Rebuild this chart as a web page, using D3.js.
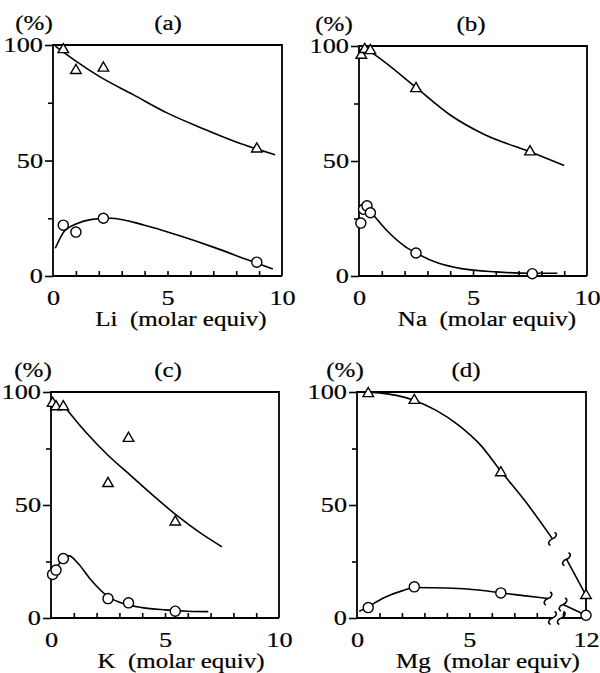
<!DOCTYPE html>
<html lang="en">
<head>
<meta charset="UTF-8">
<title>Document</title>
<script src="https://unpkg.com/d3@7.8.5/dist/d3.min.js"></script>
<style>
    * { margin: 0; padding: 0; box-sizing: border-box; }
    body { background: #fff; }
    svg { display: block; }
    text { font-family: "Liberation Serif", "Times New Roman", serif; fill: #000; stroke: #000; stroke-width: 0.2px; white-space: pre; }
</style>
</head>
<body>
<svg class="cc" width="600" height="673"></svg>
<script>
    // (a) Li
    const liDose = [0.45, 1.0, 2.2, 8.9]
    const liTriangle = [98, 89, 90, 55]
    const liCircle = [22, 19, 25, 6]
    const liTriFitX = [0.1, 1, 2, 3.5, 5, 6.5, 8, 9.7]
    const liTriFitY = [99.5, 93, 86.5, 78.5, 70.5, 64, 58, 52.5]
    const liCircFitX = [0.1, 0.5, 1, 1.7, 2.5, 4, 5.5, 7, 8.5, 9.6]
    const liCircFitY = [12, 19.5, 22.5, 24.5, 25, 22, 17.5, 12.5, 7, 3]

    // (b) Na
    const naDoseTri = [0.1, 0.25, 0.5, 2.5, 7.5]
    const naTriangle = [96, 98.5, 98, 81.5, 54]
    const naDoseCirc = [0.08, 0.2, 0.35, 0.5, 2.5, 7.6]
    const naCircle = [23, 29, 30.5, 27.5, 10, 1]
    const naTriFitX = [0.2, 1, 2.5, 4, 5.5, 7.5, 9]
    const naTriFitY = [99.5, 94, 82, 70, 61.5, 54, 48]
    const naCircFitX = [0.3, 0.55, 1.2, 2, 2.5, 3.5, 4.5, 6, 7.5, 8.7]
    const naCircFitY = [30.5, 27.5, 20, 13, 10, 5.5, 3.2, 1.8, 1.2, 1.2]

    // (c) K
    const kDose = [0.07, 0.22, 0.54, 2.5, 3.4, 5.45]
    const kTriangle = [95, 93.5, 93.5, 59.5, 79.5, 42.5]
    const kCircle = [19.3, 21.2, 26.3, 8.6, 6.7, 3]
    const kTriFitX = [0.55, 1.5, 2.5, 3.5, 4.5, 5.5, 6.5, 7.5]
    const kTriFitY = [94, 82.5, 72, 63, 54, 45.5, 38, 31.5]
    const kCircFitX = [0.05, 0.3, 0.55, 0.8, 1.2, 1.7, 2.5, 3.2, 4, 5, 6, 6.9]
    const kCircFitY = [19, 23, 27, 27.5, 24, 17.5, 9.5, 6.3, 4.6, 3.6, 3, 2.8]

    // (d) Mg  (x轴在 9~11 之间断开)
    const mgDose = [0.5, 2.55, 6.4, 12]
    const mgTriangle = [99.3, 96.3, 64.3, 10]
    const mgCircle = [4.6, 13.8, 11.1, 1.2]
    const mgTriFitX = [0.2, 1, 2.5, 3.5, 4.5, 5.5, 6.4, 7.5, 8.7]
    const mgTriFitY = [100, 99.6, 96.5, 92, 85.5, 76.5, 65, 51.5, 35]
    const mgTriFit2X = [11.15, 12]
    const mgTriFit2Y = [26, 10]
    const mgCircFitX = [0.1, 0.5, 1.2, 2, 2.6, 4, 5.5, 6.4, 7.5, 8.5]
    const mgCircFitY = [3, 5, 9, 12, 13.5, 13.3, 12.3, 11.1, 9.8, 8.6]
    const mgCircFit2X = [11, 12]
    const mgCircFit2Y = [6, 1.2]
    const mgAxisBreak = [8.7, 10.4]

    const yMajor = [0, 50, 100]
    const yMinor = [25, 75]

    const zip = (xs, ys) => xs.map((v, i) => [v, ys[i]])

    const panels = [
        {
            key: '(a)', name: 'Li  (molar equiv)', left: 53, top: 45, right: 282, bottom: 276,
            xDomain: [0, 10], xFrac: [0, 1], xTicks: d3.range(1, 10), xLabels: [0, 5, 10],
            pctX: 34, titleX: 168, nameX: 181,
            tri: zip(liDose, liTriangle), circ: zip(liDose, liCircle),
            fits: [zip(liTriFitX, liTriFitY), zip(liCircFitX, liCircFitY)]
        },
        {
            key: '(b)', name: 'Na  (molar equiv)', left: 359, top: 46, right: 587, bottom: 276,
            xDomain: [0, 10], xFrac: [0, 1], xTicks: d3.range(1, 10), xLabels: [0, 5, 10],
            pctX: 334, titleX: 471, nameX: 487,
            tri: zip(naDoseTri, naTriangle), circ: zip(naDoseCirc, naCircle),
            fits: [zip(naTriFitX, naTriFitY), zip(naCircFitX, naCircFitY)]
        },
        {
            key: '(c)', name: 'K  (molar equiv)', left: 51, top: 392, right: 279, bottom: 618,
            xDomain: [0, 10], xFrac: [0, 1], xTicks: d3.range(1, 10), xLabels: [0, 5, 10],
            pctX: 33, titleX: 168, nameX: 181,
            tri: zip(kDose, kTriangle), circ: zip(kDose, kCircle),
            fits: [zip(kTriFitX, kTriFitY), zip(kCircFitX, kCircFitY)]
        },
        {
            key: '(d)', name: 'Mg  (molar equiv)', left: 357, top: 392, right: 586, bottom: 618,
            xDomain: [0, 8.9, 11, 12], xFrac: [0, 200 / 229, 206 / 229, 1],
            xTicks: [1, 2, 3, 4, 5, 6, 7, 8, 11], xLabels: [0, 5, 12],
            pctX: 345, titleX: 466, nameX: 488,
            tri: zip(mgDose, mgTriangle), circ: zip(mgDose, mgCircle),
            fits: [zip(mgTriFitX, mgTriFitY), zip(mgCircFitX, mgCircFitY)],
            fits2: [zip(mgTriFit2X, mgTriFit2Y), zip(mgCircFit2X, mgCircFit2Y)],
            axisBreak: mgAxisBreak
        }
    ]

    const SX = 1.25 // 原图字体偏宽
    const svg = d3.select('svg')

    function txt(g, x, y, s, anchor) {
        return g.append('text')
            .attr('transform', `translate(${x},${y}) scale(${SX},1)`)
            .attr('text-anchor', anchor || 'middle')
            .attr('font-size', 20)
            .text(s)
    }

    function styleAxis(g) {
        g.attr('font-family', null).attr('font-size', null)
        g.selectAll('line').attr('stroke', '#000').attr('stroke-width', 1.6)
    }

    // 断轴符号
    const squiggle = 'M2,-6.5 C5.5,-5 3.5,-1 0,0 C-3.5,1 -5.5,5 -2,6.5'

    function drawPanel(p) {
        const g = svg.append('g')
        const w = p.right - p.left
        const x = d3.scaleLinear().domain(p.xDomain).range(p.xFrac.map(f => p.left + f * w))
        const y = d3.scaleLinear().domain([0, 100]).range([p.bottom, p.top])

        // y轴
        g.append('g').attr('transform', `translate(${p.left},0)`)
            .call(d3.axisLeft(y).tickValues(yMajor).tickSize(8).tickPadding(2))
            .call(a => a.select('.domain').remove())
            .call(styleAxis)
            .call(a => a.selectAll('text')
                .attr('x', null)
                .attr('font-size', 21)
                .attr('transform', `translate(-10,0) scale(${SX},1)`))
        g.append('g').attr('transform', `translate(${p.left},0)`)
            .call(d3.axisLeft(y).tickValues(yMinor).tickSize(5).tickFormat(''))
            .call(a => a.select('.domain').remove())
            .call(styleAxis)

        // x轴 刻度朝内
        g.append('g').attr('transform', `translate(0,${p.bottom})`)
            .call(d3.axisBottom(x).tickValues(p.xTicks).tickSize(-5).tickFormat(''))
            .call(a => a.select('.domain').remove())
            .call(styleAxis)
        g.append('g').attr('transform', `translate(0,${p.bottom})`)
            .call(d3.axisBottom(x).tickValues(p.xLabels).tickSize(0).tickPadding(14).tickFormat(d3.format('d')))
            .call(a => a.select('.domain').remove())
            .call(styleAxis)
            .call(a => a.selectAll('text')
                .attr('font-size', 21)
                .attr('dy', null)
                .attr('y', 29)
                .attr('transform', `scale(${SX},1)`))

        // 边框
        g.append('path')
            .attr('d', `M${p.left},${p.bottom}V${p.top}H${p.right}V${p.bottom}`)
            .attr('fill', 'none').attr('stroke', '#000').attr('stroke-width', 1.8)

        if (p.axisBreak) {
            const [b1, b2] = p.axisBreak.map(x)
            g.append('path')
                .attr('d', `M${p.left},${p.bottom}H${b1}M${b2},${p.bottom}H${p.right}`)
                .attr('fill', 'none').attr('stroke', '#000').attr('stroke-width', 1.8)
            g.selectAll('.axbrk').data([b1, b2]).enter().append('path')
                .attr('transform', d => `translate(${d},${p.bottom})`)
                .attr('d', squiggle)
                .attr('fill', 'none').attr('stroke', '#000').attr('stroke-width', 1.5)
        } else {
            g.append('line')
                .attr('x1', p.left).attr('x2', p.right)
                .attr('y1', p.bottom).attr('y2', p.bottom)
                .attr('stroke', '#000').attr('stroke-width', 1.8)
        }

        // 拟合曲线
        const line = d3.line().x(d => x(d[0])).y(d => y(d[1])).curve(d3.curveMonotoneX)
        g.selectAll('.fit').data(p.fits).enter().append('path')
            .attr('d', line)
            .attr('fill', 'none').attr('stroke', '#000').attr('stroke-width', 1.6)

        if (p.fits2) {
            g.selectAll('.fit2').data(p.fits2).enter().append('path')
                .attr('d', d3.line().x(d => x(d[0])).y(d => y(d[1])))
                .attr('fill', 'none').attr('stroke', '#000').attr('stroke-width', 1.6)
            const ends = []
            p.fits.forEach(f => ends.push(f[f.length - 1]))
            p.fits2.forEach(f => ends.push(f[0]))
            g.selectAll('.brk').data(ends).enter().append('path')
                .attr('transform', d => `translate(${x(d[0])},${y(d[1])})`)
                .attr('d', squiggle)
                .attr('fill', 'none').attr('stroke', '#000').attr('stroke-width', 1.5)
        }

        // 数据点
        g.selectAll('.circ').data(p.circ).enter().append('path')
            .attr('transform', d => `translate(${x(d[0])},${y(d[1])})`)
            .attr('d', d3.symbol().type(d3.symbolCircle).size(80))
            .attr('fill', '#fff').attr('stroke', '#000').attr('stroke-width', 1.4)
        g.selectAll('.tri').data(p.tri).enter().append('path')
            .attr('transform', d => `translate(${x(d[0])},${y(d[1])})`)
            .attr('d', d3.symbol().type(d3.symbolTriangle).size(48))
            .attr('fill', '#fff').attr('stroke', '#000').attr('stroke-width', 1.4)

        // 文字
        txt(g, p.pctX, p.top - 15, '(%)')
        txt(g, p.titleX, p.top - 15, p.key)
        txt(g, p.nameX, p.bottom + 50, p.name)
    }

    panels.forEach(drawPanel)
</script>
</body>
</html>
